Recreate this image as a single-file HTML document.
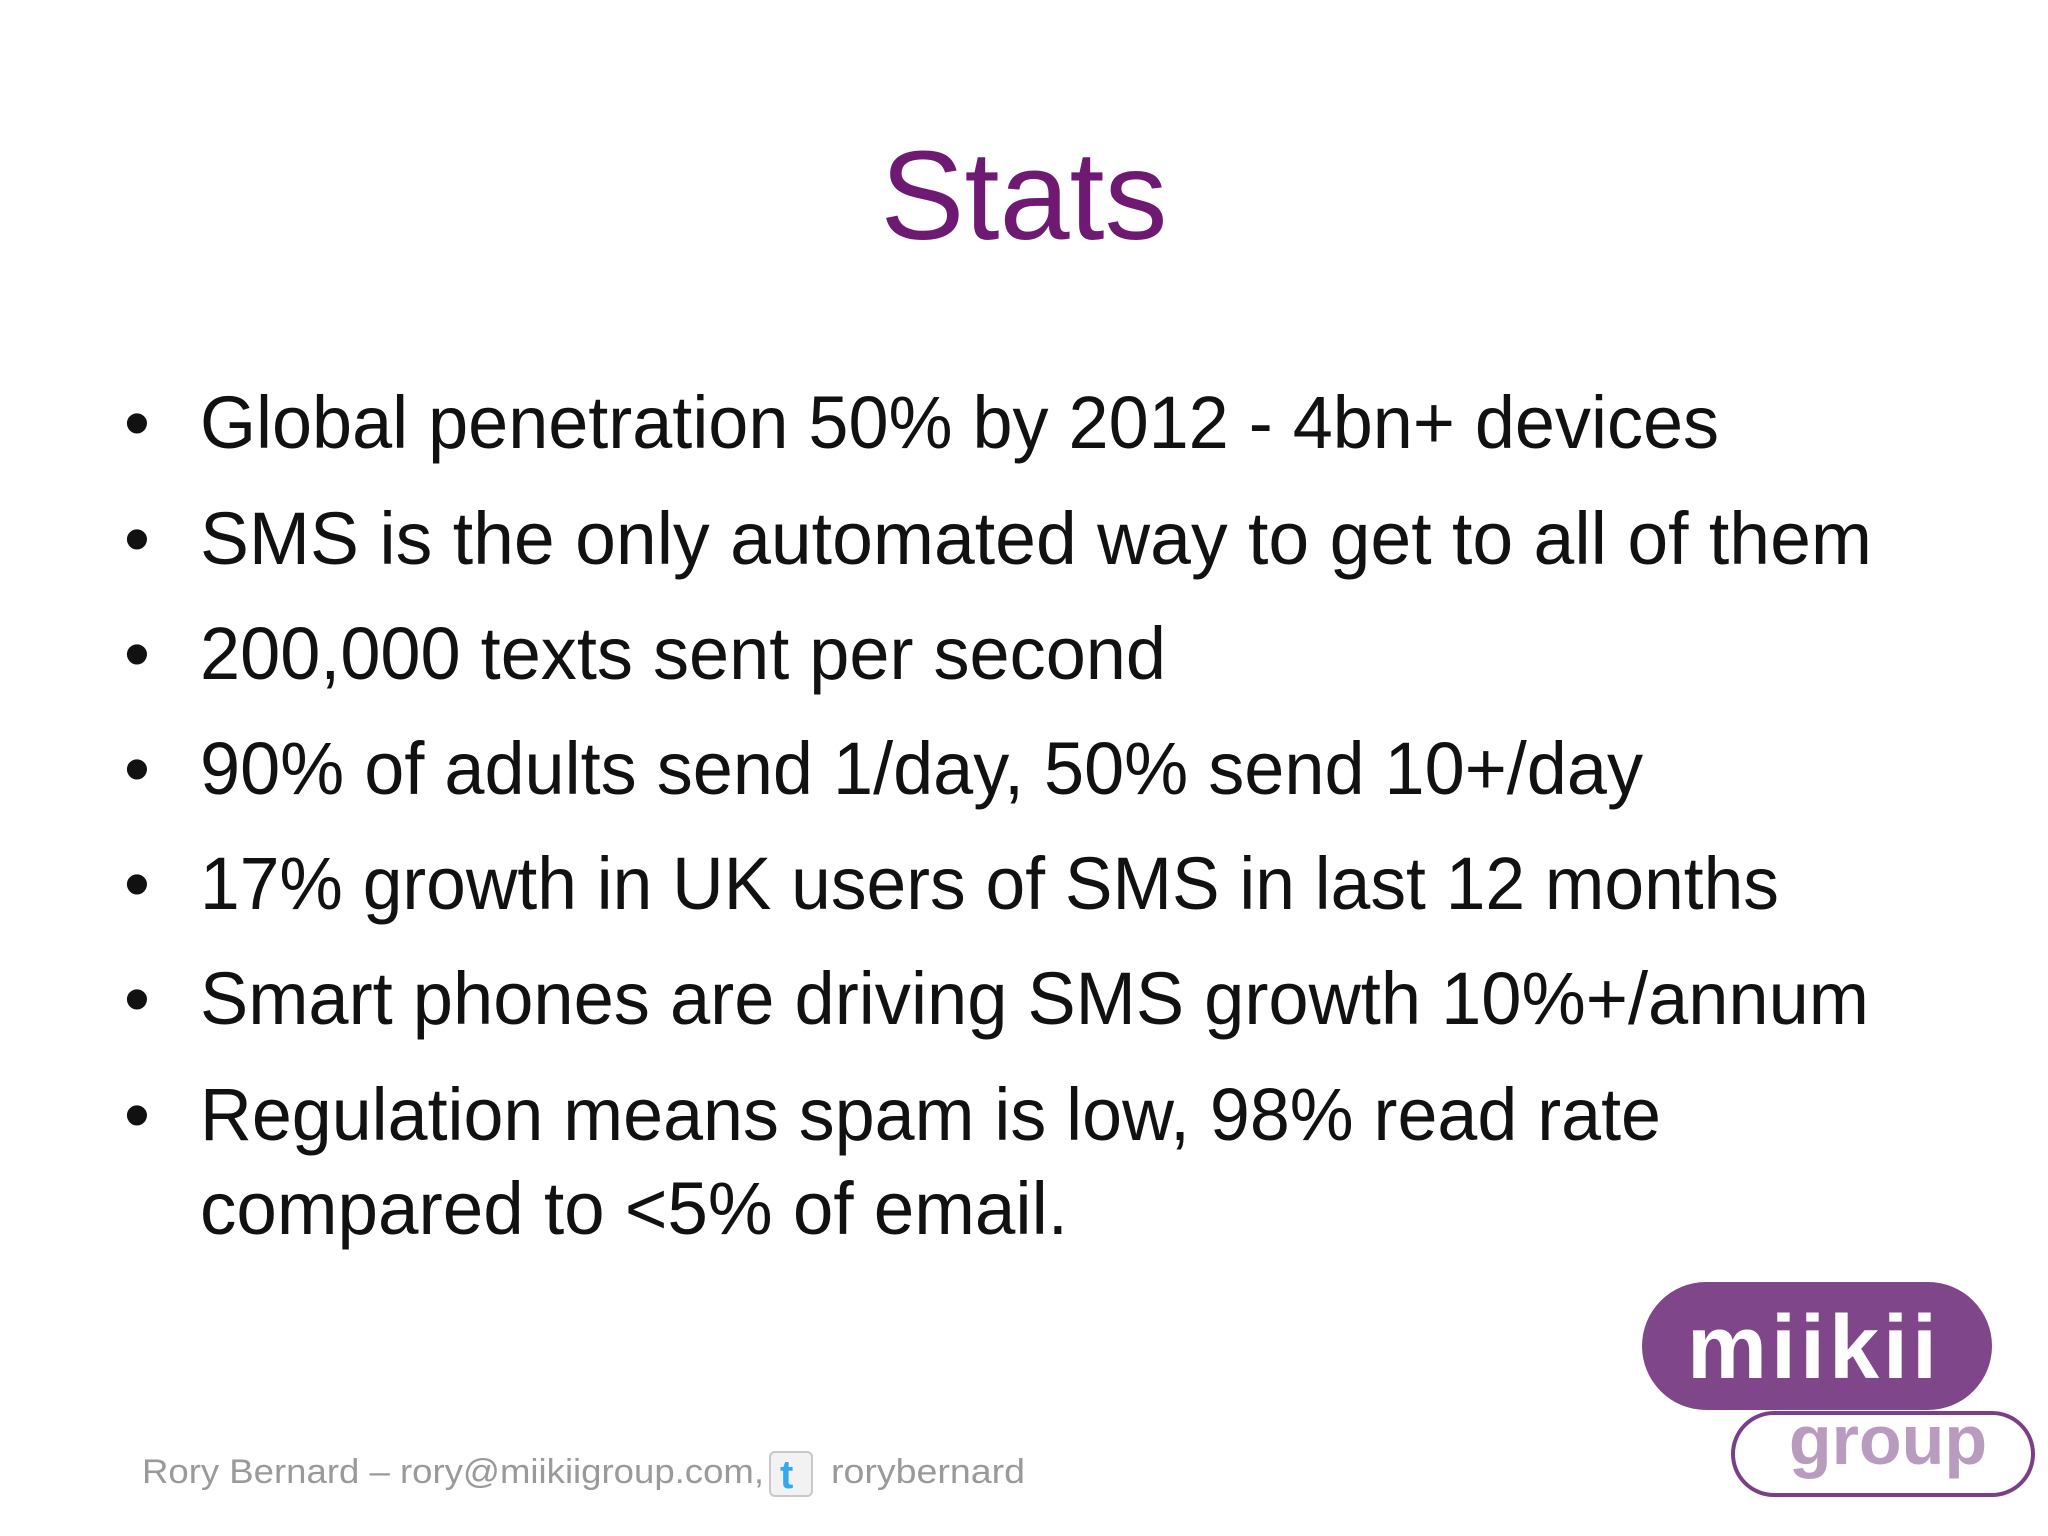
<!DOCTYPE html>
<html><head><meta charset="utf-8"><style>
html,body{margin:0;padding:0;background:#fff;}
svg{display:block;}
</style></head><body>
<svg width="2048" height="1536" viewBox="0 0 2048 1536" xmlns="http://www.w3.org/2000/svg">
<text x="1024" y="239" text-anchor="middle" font-family="Liberation Sans, sans-serif" font-size="126" fill="#6e1a72">Stats</text>
<g font-family="Liberation Sans, sans-serif" font-size="74" fill="#111">
<text x="124" y="448">•</text>
<text x="200" y="448" textLength="1519" lengthAdjust="spacingAndGlyphs">Global penetration 50% by 2012 - 4bn+ devices</text>
<text x="124" y="564">•</text>
<text x="200" y="564" textLength="1672" lengthAdjust="spacingAndGlyphs">SMS is the only automated way to get to all of them</text>
<text x="124" y="679">•</text>
<text x="200" y="679" textLength="966" lengthAdjust="spacingAndGlyphs">200,000 texts sent per second</text>
<text x="124" y="794">•</text>
<text x="200" y="794" textLength="1443" lengthAdjust="spacingAndGlyphs">90% of adults send 1/day, 50% send 10+/day</text>
<text x="124" y="909">•</text>
<text x="200" y="909" textLength="1579" lengthAdjust="spacingAndGlyphs">17% growth in UK users of SMS in last 12 months</text>
<text x="124" y="1024">•</text>
<text x="200" y="1024" textLength="1669" lengthAdjust="spacingAndGlyphs">Smart phones are driving SMS growth 10%+/annum</text>
<text x="124" y="1140">•</text>
<text x="200" y="1140" textLength="1461" lengthAdjust="spacingAndGlyphs">Regulation means spam is low, 98% read rate</text>
<text x="200" y="1234" textLength="868" lengthAdjust="spacingAndGlyphs">compared to &lt;5% of email.</text>
</g>
<g font-family="Liberation Sans, sans-serif" font-size="34" fill="#9a9a9a">
<text x="142" y="1483" textLength="622" lengthAdjust="spacingAndGlyphs">Rory Bernard – rory@miikiigroup.com,</text>
<rect x="770" y="1452" width="42" height="44" rx="5" fill="#f2f2f2" stroke="#c8c8c8" stroke-width="2"/>
<text x="780" y="1488" font-size="40" font-weight="bold" fill="#33aaf0">t</text>
<text x="831" y="1483" textLength="194" lengthAdjust="spacingAndGlyphs">rorybernard</text>
</g>
<g>
<rect x="1733" y="1413" width="300" height="82" rx="41" fill="#fff" stroke="#7a3f86" stroke-width="4"/>
<text x="1888" y="1464" text-anchor="middle" font-family="Liberation Sans, sans-serif" font-weight="bold" font-size="70" fill="#b89bbf">group</text>
<rect x="1642" y="1282" width="350" height="128" rx="64" fill="#7f478a"/>
<text x="1814" y="1378" text-anchor="middle" font-family="Liberation Sans, sans-serif" font-weight="bold" font-size="90" fill="#fff" letter-spacing="4">miikii</text>
</g>
</svg>
</body></html>
